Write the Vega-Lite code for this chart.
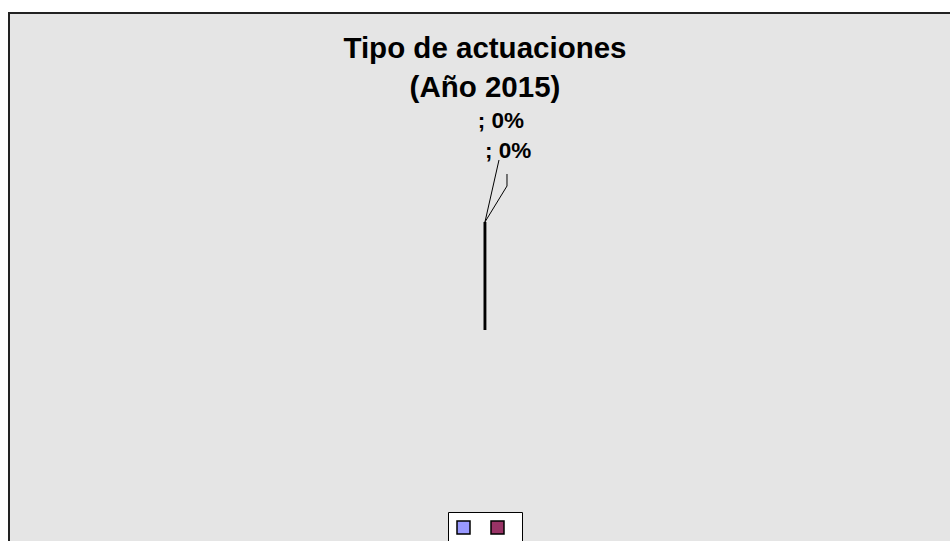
{
  "$schema": "https://vega.github.io/schema/vega-lite/v6.json",
  "width": 950,
  "height": 541,
  "autosize": {"type": "fit", "contains": "padding"},
  "padding": {"left": 9, "top": 13, "right": -2, "bottom": -2},
  "background": "#ffffff",
  "config": {
    "view": {"fill": "#e5e5e5", "stroke": "#222222", "strokeWidth": 2},
    "text": {"font": "Liberation Sans", "fontWeight": "bold", "color": "#000000"}
  },
  "datasets": {
    "sectores": [
      {"categoria": "A", "valor": 0, "etiqueta": "; 0%"},
      {"categoria": "B", "valor": 0, "etiqueta": "; 0%"}
    ],
    "titulo": [
      {"texto": "Tipo de actuaciones\n(Año 2015)"}
    ]
  },
  "layer": [
    {
      "data": {"name": "sectores"},
      "mark": {"type": "arc", "radius": 108, "stroke": "#000000", "strokeWidth": 2.5, "strokeJoin": "bevel"},
      "encoding": {
        "x": {"datum": 50.58, "type": "quantitative", "scale": {"domain": [0, 100.21], "nice": false, "zero": false}, "axis": null},
        "y": {"datum": 60.04, "type": "quantitative", "scale": {"domain": [0, 100.38], "nice": false, "zero": false, "reverse": true}, "axis": null},
        "theta": {"field": "valor", "type": "quantitative", "stack": true, "scale": {"domain": [0, 1]}},
        "color": {
          "field": "categoria",
          "type": "nominal",
          "scale": {"range": ["#9999ff", "#993366"]},
          "legend": {
            "orient": "none",
            "legendX": 439,
            "legendY": 499,
            "direction": "horizontal",
            "title": null,
            "labelExpr": "''",
            "fillColor": "#ffffff",
            "strokeColor": "#000000",
            "padding": 8,
            "symbolType": "square",
            "symbolSize": 169,
            "symbolStrokeColor": "#000000",
            "symbolStrokeWidth": 1.5,
            "symbolOpacity": 1,
            "labelOffset": 9,
            "columnPadding": 8
          }
        }
      }
    },
    {
      "data": {"name": "titulo"},
      "mark": {"type": "text", "fontSize": 29.5, "align": "center", "baseline": "alphabetic", "lineBreak": "\n", "lineHeight": 39},
      "encoding": {
        "x": {"datum": 50.58, "type": "quantitative", "axis": null},
        "y": {"datum": 8.6, "type": "quantitative", "axis": null},
        "text": {"field": "texto"}
      }
    },
    {
      "data": {"name": "sectores"},
      "transform": [{"filter": "datum.categoria === 'A'"}],
      "mark": {"type": "text", "fontSize": 22.5, "align": "center", "baseline": "alphabetic"},
      "encoding": {
        "x": {"datum": 52.28, "type": "quantitative", "axis": null},
        "y": {"datum": 21.78, "type": "quantitative", "axis": null},
        "text": {"field": "etiqueta"}
      }
    },
    {
      "data": {"name": "sectores"},
      "transform": [{"filter": "datum.categoria === 'B'"}],
      "mark": {"type": "text", "fontSize": 22.5, "align": "center", "baseline": "alphabetic"},
      "encoding": {
        "x": {"datum": 53.03, "type": "quantitative", "axis": null},
        "y": {"datum": 27.46, "type": "quantitative", "axis": null},
        "text": {"field": "etiqueta"}
      }
    },
    {
      "data": {"values": [{}]},
      "mark": {"type": "rule", "stroke": "#000000", "strokeWidth": 1},
      "encoding": {
        "x": {"datum": 50.58, "type": "quantitative", "axis": null},
        "y": {"datum": 39.58, "type": "quantitative", "axis": null},
        "x2": {"datum": 52.07},
        "y2": {"datum": 27.84}
      }
    },
    {
      "data": {"values": [{}]},
      "mark": {"type": "rule", "stroke": "#000000", "strokeWidth": 1},
      "encoding": {
        "x": {"datum": 50.58, "type": "quantitative", "axis": null},
        "y": {"datum": 39.58, "type": "quantitative", "axis": null},
        "x2": {"datum": 52.92},
        "y2": {"datum": 32.77}
      }
    },
    {
      "data": {"values": [{}]},
      "mark": {"type": "rule", "stroke": "#000000", "strokeWidth": 1},
      "encoding": {
        "x": {"datum": 52.92, "type": "quantitative", "axis": null},
        "y": {"datum": 32.77, "type": "quantitative", "axis": null},
        "x2": {"datum": 52.92},
        "y2": {"datum": 30.49}
      }
    }
  ]
}
